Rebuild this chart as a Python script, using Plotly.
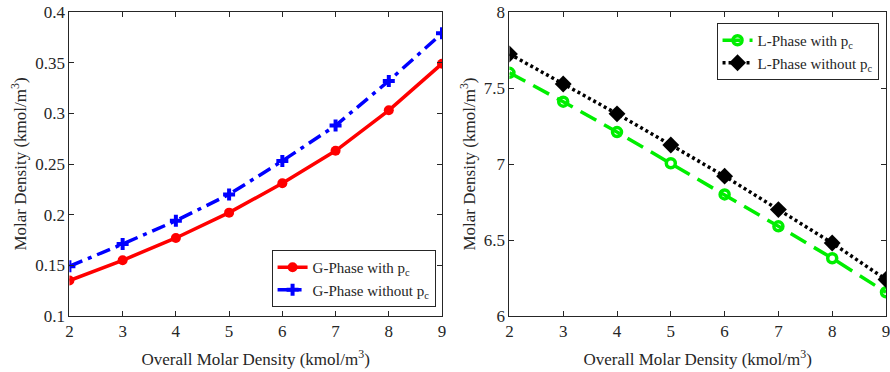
import plotly.graph_objects as go

x_vals = [2, 3, 4, 5, 6, 7, 8, 9]
g_with_pc = [0.135, 0.155, 0.177, 0.202, 0.231, 0.263, 0.303, 0.349]
g_without_pc = [0.149, 0.171, 0.194, 0.220, 0.253, 0.288, 0.332, 0.379]
l_with_pc = [7.60, 7.41, 7.21, 7.005, 6.80, 6.59, 6.38, 6.156]
l_without_pc = [7.724, 7.526, 7.33, 7.125, 6.92, 6.70, 6.48, 6.24]

FONT = "Liberation Serif"
AX = "#262626"

fig = go.Figure()
fig.add_trace(go.Scatter(x=x_vals, y=g_with_pc, mode="lines+markers", name="G-Phase with p<sub>c</sub>",
                         line=dict(color="#ff0000", width=3.5, dash="solid"),
                         marker=dict(symbol="circle", size=10, color="#ff0000"),
                         xaxis="x", yaxis="y", legend="legend"))
fig.add_trace(go.Scatter(x=x_vals, y=g_without_pc, mode="lines+markers", name="G-Phase without p<sub>c</sub>",
                         line=dict(color="#0000ff", width=3.5, dash="14px,6px,4px,6px"),
                         marker=dict(symbol="cross", size=10, color="#0000ff"),
                         xaxis="x", yaxis="y", legend="legend"))
fig.add_trace(go.Scatter(x=x_vals, y=l_with_pc, mode="lines+markers", name="L-Phase with p<sub>c</sub>",
                         line=dict(color="#00ee00", width=3.5, dash="18px,9px"),
                         marker=dict(symbol="circle-open", size=9, color="#00ee00",
                                     line=dict(color="#00ee00", width=3.5)),
                         xaxis="x2", yaxis="y2", legend="legend2"))
fig.add_trace(go.Scatter(x=x_vals, y=l_without_pc, mode="lines+markers", name="L-Phase without p<sub>c</sub>",
                         line=dict(color="#000000", width=3.5, dash="3px,3px"),
                         marker=dict(symbol="diamond", size=13, color="#000000"),
                         xaxis="x2", yaxis="y2", legend="legend2"))

axis_common = dict(showline=True, linecolor=AX, linewidth=1, mirror="ticks", ticks="inside",
                   ticklen=5, tickcolor=AX, showgrid=False, zeroline=False,
                   ticklabeloverflow="allow",
                   tickfont=dict(family=FONT, size=17, color=AX))
title_font = dict(family=FONT, size=17, color=AX)

fig.update_layout(
    width=890, height=372,
    margin=dict(l=0, r=0, t=12, b=56),
    paper_bgcolor="white", plot_bgcolor="white",
    font=dict(family=FONT, color=AX),
    xaxis=dict(domain=[66/890, 442/890], range=[2, 9], dtick=1, anchor="y",
               title=dict(text="Overall Molar Density (kmol/m<sup>3</sup>)", font=title_font, standoff=12),
               **axis_common),
    yaxis=dict(domain=[0, 1], range=[0.1, 0.4], dtick=0.05, anchor="x",
               title=dict(text="Molar Density (kmol/m<sup>3</sup>)", font=title_font, standoff=4),
               **axis_common),
    xaxis2=dict(domain=[510/890, 1.0], range=[2, 9], dtick=1, anchor="y2",
                title=dict(text="Overall Molar Density (kmol/m<sup>3</sup>)", font=title_font, standoff=12),
                **axis_common),
    yaxis2=dict(domain=[0, 1], range=[6, 8], dtick=0.5, anchor="x2",
                title=dict(text="Molar Density (kmol/m<sup>3</sup>)", font=title_font, standoff=3),
                **axis_common),
    legend=dict(x=270/890, y=(316-250)/304, xanchor="left", yanchor="top",
                bgcolor="white", bordercolor=AX, borderwidth=1, tracegroupgap=0,
                font=dict(family=FONT, size=15, color=AX), itemwidth=30),
    legend2=dict(x=719/890, y=(316-23)/304, xanchor="left", yanchor="top",
                 bgcolor="white", bordercolor=AX, borderwidth=1, tracegroupgap=0,
                 font=dict(family=FONT, size=15, color=AX), itemwidth=30),
)

fig.write_html("out.html")
